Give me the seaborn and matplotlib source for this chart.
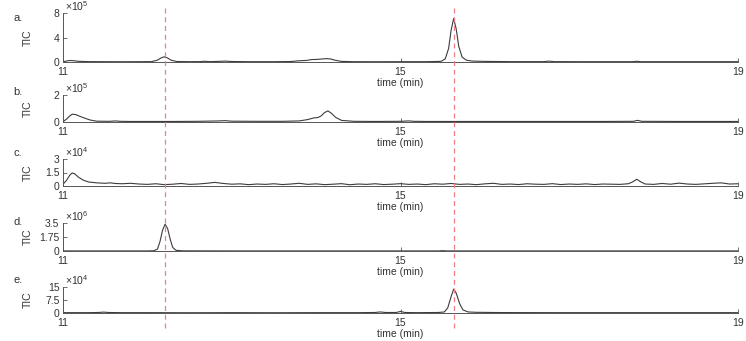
import matplotlib
matplotlib.use("Agg")
import matplotlib.pyplot as plt
import matplotlib.transforms as mtransforms
from matplotlib.lines import Line2D
import seaborn as sns

# data: TIC traces, values in units of 10^exponent
a_time = [11.00, 11.04, 11.08, 11.12, 11.18, 11.30, 11.50, 11.70, 11.90, 12.05,
          12.12, 12.16, 12.20, 12.24, 12.28, 12.35, 12.50, 12.62, 12.68, 12.74,
          12.85, 12.92, 13.00, 13.20, 13.50, 13.70, 13.80, 13.88, 13.95, 14.00,
          14.06, 14.12, 14.17, 14.22, 14.30, 14.45, 14.70, 15.00, 15.30, 15.48,
          15.53, 15.57, 15.60, 15.63, 15.66, 15.69, 15.73, 15.78, 15.85, 16.00,
          16.30, 16.70, 16.76, 16.82, 17.20, 17.75, 17.80, 17.85, 18.30, 19.00]
a_tic = [0.05, 0.15, 0.25, 0.22, 0.12, 0.06, 0.05, 0.04, 0.05, 0.06,
         0.30, 0.65, 0.85, 0.65, 0.30, 0.08, 0.05, 0.06, 0.12, 0.06,
         0.10, 0.15, 0.08, 0.05, 0.05, 0.08, 0.20, 0.25, 0.40, 0.42,
         0.48, 0.55, 0.50, 0.30, 0.10, 0.05, 0.04, 0.05, 0.05, 0.10,
         0.50, 2.20, 5.20, 7.10, 5.40, 2.60, 0.80, 0.30, 0.15, 0.10,
         0.06, 0.06, 0.14, 0.06, 0.05, 0.05, 0.12, 0.05, 0.05, 0.05]

b_time = [11.00, 11.04, 11.08, 11.11, 11.15, 11.20, 11.26, 11.32, 11.40, 11.55,
          11.62, 11.68, 11.80, 12.00, 12.30, 12.60, 12.85, 12.92, 13.00, 13.30,
          13.60, 13.80, 13.90, 13.97, 14.02, 14.06, 14.10, 14.14, 14.18, 14.23,
          14.30, 14.45, 14.70, 15.00, 15.10, 15.16, 15.30, 15.70, 16.20, 16.80,
          17.40, 17.76, 17.81, 17.86, 18.30, 19.00]
b_tic = [0.03, 0.20, 0.45, 0.58, 0.55, 0.42, 0.28, 0.15, 0.06, 0.05,
         0.08, 0.05, 0.04, 0.04, 0.04, 0.05, 0.08, 0.10, 0.06, 0.05,
         0.05, 0.08, 0.18, 0.30, 0.33, 0.45, 0.70, 0.82, 0.65, 0.35,
         0.12, 0.05, 0.04, 0.05, 0.08, 0.05, 0.04, 0.04, 0.04, 0.04,
         0.04, 0.05, 0.12, 0.05, 0.04, 0.04]

c_time = [11.00, 11.04, 11.08, 11.11, 11.14, 11.18, 11.24, 11.30, 11.40, 11.50,
          11.56, 11.62, 11.70, 11.80, 11.90, 12.00, 12.10, 12.20, 12.30, 12.40,
          12.50, 12.60, 12.70, 12.80, 12.90, 13.00, 13.10, 13.20, 13.30, 13.40,
          13.50, 13.60, 13.70, 13.80, 13.90, 14.00, 14.10, 14.20, 14.30, 14.40,
          14.50, 14.60, 14.70, 14.80, 14.90, 15.00, 15.10, 15.20, 15.30, 15.40,
          15.50, 15.60, 15.70, 15.80, 15.90, 16.00, 16.10, 16.20, 16.30, 16.40,
          16.50, 16.60, 16.70, 16.80, 16.90, 17.00, 17.10, 17.20, 17.30, 17.40,
          17.50, 17.60, 17.70, 17.75, 17.80, 17.85, 17.90, 18.00, 18.10, 18.20,
          18.30, 18.40, 18.50, 18.60, 18.70, 18.80, 18.90, 19.00]
c_tic = [0.20, 0.60, 1.20, 1.45, 1.35, 1.00, 0.65, 0.45, 0.35, 0.30,
         0.35, 0.28, 0.25, 0.30, 0.22, 0.18, 0.25, 0.15, 0.20, 0.28,
         0.18, 0.22, 0.30, 0.40, 0.28, 0.20, 0.24, 0.15, 0.22, 0.18,
         0.25, 0.16, 0.22, 0.30, 0.18, 0.24, 0.15, 0.20, 0.26, 0.14,
         0.22, 0.18, 0.25, 0.16, 0.20, 0.26, 0.18, 0.22, 0.15, 0.25,
         0.20, 0.28, 0.18, 0.22, 0.15, 0.24, 0.30, 0.18, 0.22, 0.16,
         0.25, 0.20, 0.18, 0.26, 0.16, 0.22, 0.18, 0.24, 0.16, 0.22,
         0.20, 0.18, 0.25, 0.45, 0.75, 0.45, 0.22, 0.18, 0.28, 0.20,
         0.32, 0.22, 0.18, 0.24, 0.30, 0.35, 0.22, 0.25]

d_time = [11.00, 11.50, 12.00, 12.08, 12.12, 12.15, 12.18, 12.21, 12.24, 12.27,
          12.30, 12.34, 12.42, 13.00, 14.00, 15.00, 15.45, 15.50, 15.55, 16.00,
          17.00, 18.00, 19.00]
d_tic = [0.01, 0.01, 0.01, 0.03, 0.25, 1.20, 2.60, 3.35, 2.80, 1.50,
         0.45, 0.08, 0.02, 0.01, 0.01, 0.01, 0.01, 0.04, 0.01, 0.01,
         0.01, 0.01, 0.01]

e_time = [11.00, 11.30, 11.42, 11.48, 11.54, 11.70, 12.00, 12.50, 13.00, 13.50,
          14.00, 14.50, 14.70, 14.76, 14.82, 14.95, 15.00, 15.05, 15.20, 15.45,
          15.52, 15.56, 15.60, 15.63, 15.66, 15.70, 15.74, 15.80, 15.90, 16.20,
          16.80, 17.40, 18.00, 18.50, 19.00]
e_tic = [0.2, 0.2, 0.3, 0.5, 0.3, 0.2, 0.2, 0.15, 0.2, 0.15,
         0.2, 0.2, 0.3, 0.6, 0.3, 0.3, 0.9, 0.3, 0.2, 0.3,
         0.6, 3.0, 9.5, 13.8, 11.5, 5.5, 1.8, 0.6, 0.4, 0.25,
         0.2, 0.2, 0.2, 0.2, 0.2]

panel_labels = ["a.", "b.", "c.", "d.", "e."]
exponents = [5, 5, 4, 6, 4]
y_ticks = [[0, 4, 8], [0, 2], [0, 1.5, 3], [0, 1.75, 3.5], [0, 7.5, 15]]
y_tick_labels = [["0", "4", "8"], ["0", "2"], ["0", "1.5", "3"],
                 ["0", "1.75", "3.5"], ["0", "7.5", "15"]]
x_ticks = [11, 15, 19]
marker_times = [12.21, 15.63]

traces = [(a_time, a_tic), (b_time, b_tic), (c_time, c_tic), (d_time, d_tic), (e_time, e_tic)]

sns.set_theme(style="ticks")
plt.rcParams['font.family'] = ['Liberation Sans', 'DejaVu Sans']
plt.rcParams['mathtext.default'] = 'regular'

W, H = 746, 341
fig = plt.figure(figsize=(W / 100, H / 100), dpi=100)

# panel boxes in pixels (top, bottom) and letter offsets from panel top
tops = [13, 95, 159, 223, 287]
bottoms = [62, 122, 186, 251, 313]
letter_dy = [5, -3, -6, -1, -7]
left_px, right_px = 63, 738

line_col = '#3c3c3c'
axis_col = '#555555'
text_col = '#333333'

axes = []
for i, (t, v) in enumerate(traces):
    ax = fig.add_axes([left_px / W, 1 - bottoms[i] / H,
                       (right_px - left_px) / W, (bottoms[i] - tops[i]) / H])
    sns.lineplot(x=t, y=v, ax=ax, color=line_col, linewidth=0.8, sort=False)
    ax.set_xlim(11, 19)
    ax.set_ylim(0, y_ticks[i][-1])
    ax.set_xticks(x_ticks)
    ax.set_xticklabels([str(x) for x in x_ticks])
    ax.set_yticks(y_ticks[i])
    ax.set_yticklabels(y_tick_labels[i])
    ax.tick_params(direction='in', length=3, width=0.6, color=axis_col,
                   labelsize=7.5, labelcolor=text_col)
    ax.tick_params(axis='x', pad=3.5)
    ax.tick_params(axis='y', pad=2.5)
    sns.despine(ax=ax)
    for s in ['left', 'bottom']:
        ax.spines[s].set_color(axis_col)
        ax.spines[s].set_linewidth(0.7)
    ax.set_xlabel('time (min)', fontsize=7.5, color=text_col, labelpad=1)
    ax.set_ylabel('TIC', fontsize=7.5, color=text_col)
    ax.yaxis.set_label_coords(-0.045, 0.5)
    ax.text(0.003, 1.0, r'$\times10^{%d}$' % exponents[i], transform=ax.transAxes,
            fontsize=7.5, color=text_col, ha='left', va='bottom')
    ax.annotate(panel_labels[i], xy=(0, 1), xycoords='axes fraction',
                xytext=(-50, -letter_dy[i]), textcoords='offset pixels',
                fontsize=8, color=text_col, ha='left', va='center')
    ax.patch.set_alpha(0)
    axes.append(ax)

# red dashed reference lines across all panels
for t in marker_times:
    trans = mtransforms.blended_transform_factory(axes[0].transData, fig.transFigure)
    fig.add_artist(Line2D([t, t], [1 - 8 / H, 1 - 330 / H], transform=trans,
                          color='#ee8080', linestyle=(0, (4, 3)), linewidth=0.9))

fig.savefig('out.png', dpi=100)
